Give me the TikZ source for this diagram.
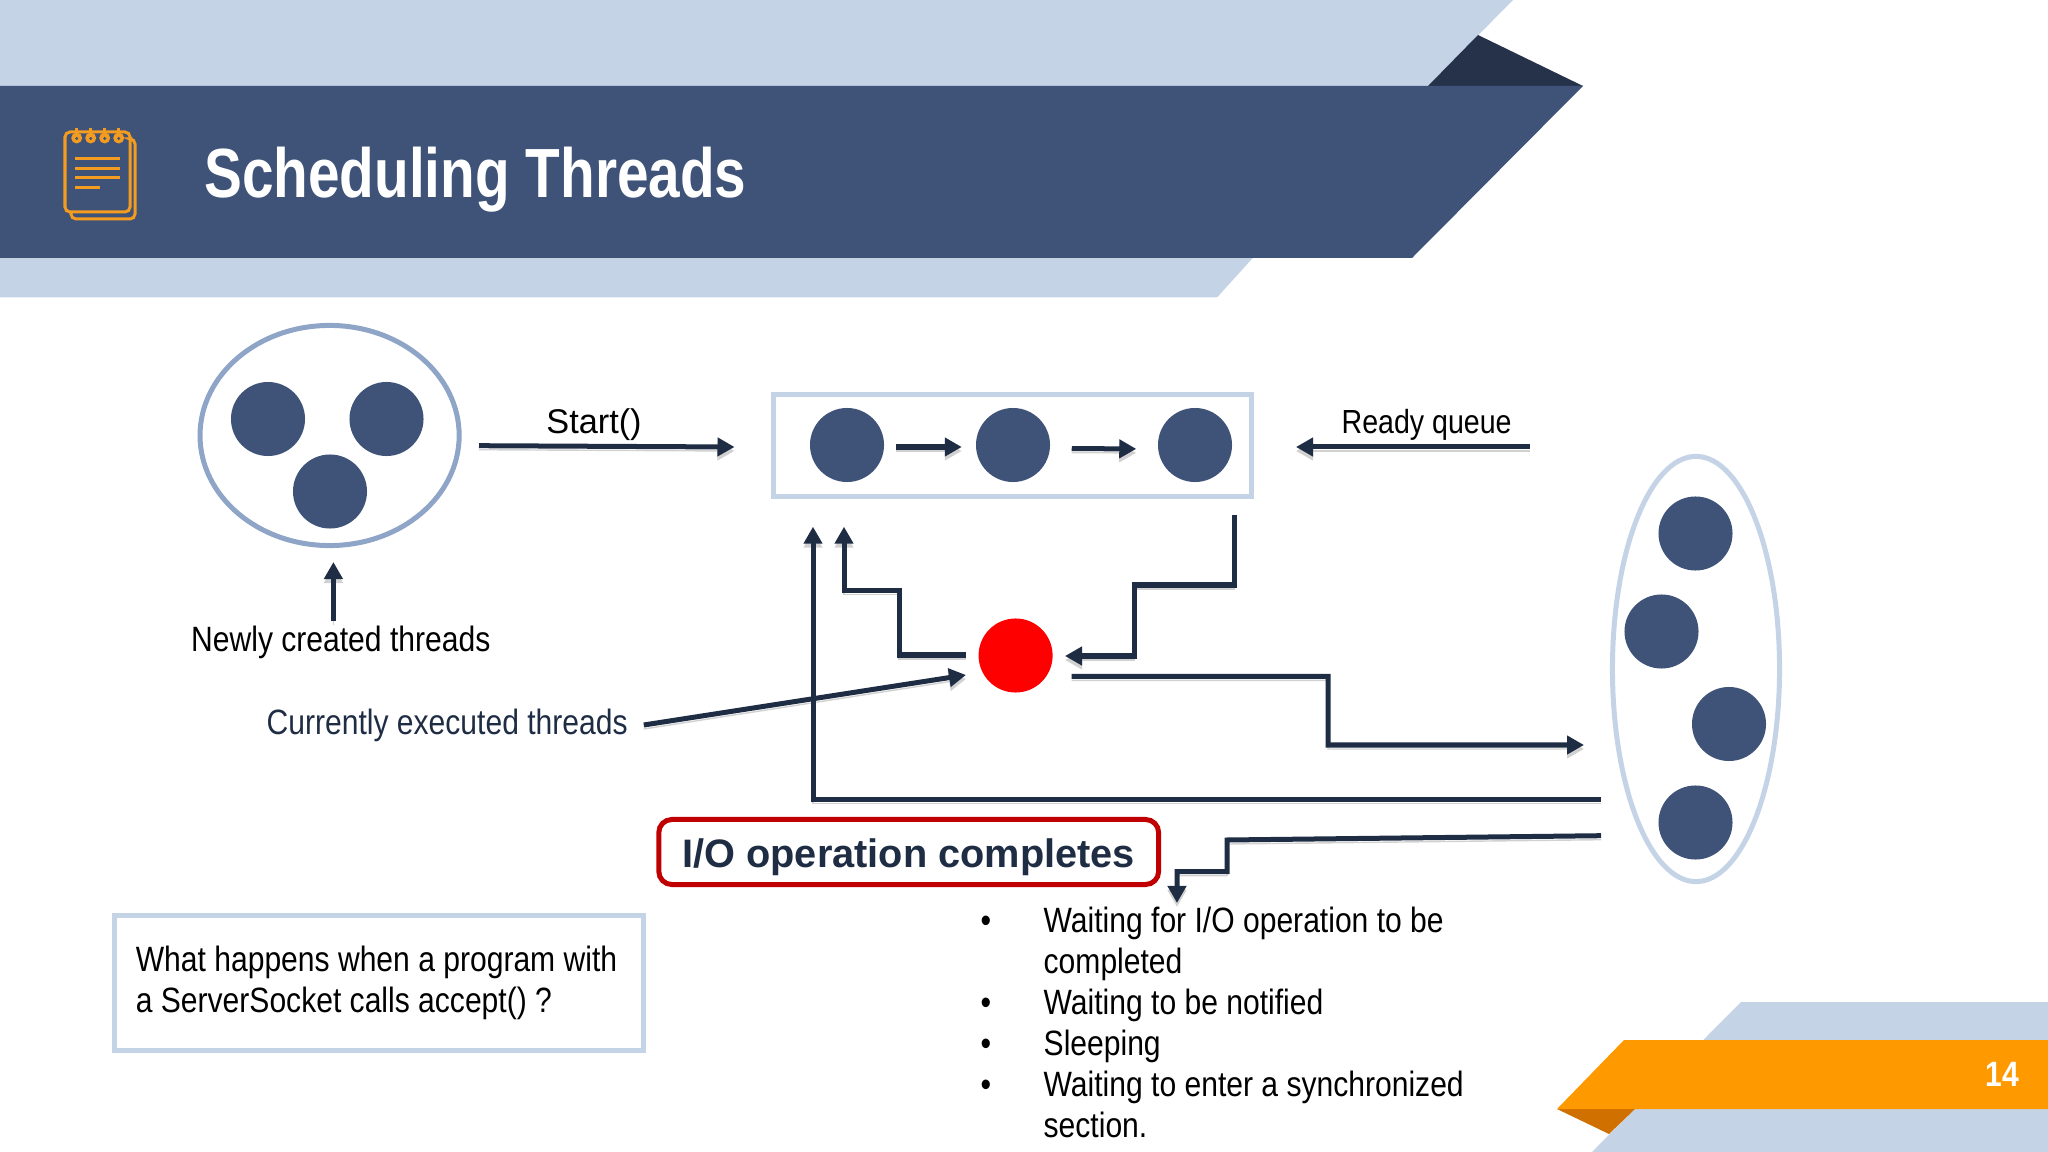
\documentclass[tikz,border=0pt]{standalone}
\usepackage{fontspec}
\setmainfont{Liberation Sans}
\newfontfamily\narrowfont[FakeStretch=0.855]{Liberation Sans}
\newfontfamily\titlefont[FakeStretch=0.815]{Liberation Sans}
\usetikzlibrary{arrows.meta,shapes.geometric,calc}
\definecolor{bandlight}{HTML}{C5D3E7}
\definecolor{banddark}{HTML}{3F5378}
\definecolor{bandfold}{HTML}{25324A}
\definecolor{accent}{HTML}{FF9900}
\definecolor{accentfold}{HTML}{D07000}
\definecolor{iconline}{HTML}{F39C1F}
\definecolor{linedark}{HTML}{1F2D44}
\definecolor{poolline}{HTML}{8FA5C8}
\definecolor{ioline}{HTML}{C00000}
\newcommand{\bodyfont}{\fontsize{10}{11.66}\selectfont\narrowfont}
\tikzset{
    thread/.style={circle, fill=banddark, minimum size=0.74cm, inner sep=0pt},
    flowline/.style={line width=0.05cm, draw=linedark,
        preaction={draw=black!18, transform canvas={yshift=-0.04cm}}},
    flowarrow/.style={flowline, -{Triangle[length=0.17cm,width=0.18cm]}},
    label/.style={anchor=base west, inner sep=0pt, font=\bodyfont},
    lightbox/.style={draw=bandlight, line width=0.05cm, fill=white, inner sep=0pt}
}
\begin{document}
\begin{tikzpicture}[x=0.01cm, y=-0.01cm]
    \useasboundingbox (0,0) rectangle (2048,1152);
    % header bands
    \fill[bandlight] (0,0) -- (1513,0) -- (1428,86) -- (0,86) -- cycle;
    \fill[bandlight] (0,250) -- (1260,250) -- (1217,297.5) -- (0,297.5) -- cycle;
    \fill[bandfold] (1428,86) -- (1478,35) -- (1583,86) -- cycle;
    \fill[banddark] (0,86) -- (1583,86) -- (1412,258) -- (0,258) -- cycle;
    \node[label, text=white, font=\fontsize{19.8}{24}\selectfont\titlefont\bfseries] (title) at (203.5,197.7) {Scheduling Threads};
    % notepad icon
    \draw[iconline, line width=0.03cm, rounded corners=0.05cm] (65,132) rectangle (130,212);
    \draw[iconline, line width=0.03cm, rounded corners=0.05cm] (132.5,139) -- (135,139) -- (135,219) -- (71,219) -- (71,213);
    \foreach \x in {76.7,90.7,104.7,118.7} {
        \draw[iconline, line width=0.025cm] (\x,128) -- (\x,136);
        \fill[iconline] (\x,138) circle (5.5);
        \fill[banddark] (\x,138.5) circle (1.6);
    }
    \foreach \y/\xend in {159/120,168.3/120,177.7/120,187.3/100} {
        \draw[iconline, line width=0.03cm] (75,\y) -- (\xend,\y);
    }
    % footer bands
    \fill[bandlight] (1741,1002) -- (2048,1002) -- (2048,1152) -- (1592,1152) -- cycle;
    \fill[accentfold] (1557,1109) -- (1635,1109) -- (1609,1134) -- cycle;
    \fill[accent] (1624,1040) -- (2048,1040) -- (2048,1109) -- (1557,1109) -- cycle;
    \node[label, text=white, font=\bodyfont\bfseries] (page) at (1985,1086) {14};

    % new threads
    \node[draw=poolline, line width=0.05cm, ellipse, minimum width=2.59cm, minimum height=2.2cm, inner sep=0pt] (newPool) at (329.6,435.5) {};
    \node[thread] (new1) at (268,419) {};
    \node[thread] (new2) at (386.5,419) {};
    \node[thread] (new3) at (330,491.5) {};
    \node[anchor=base, inner sep=0pt, font=\fontsize{9.75}{11.66}\selectfont] (startText) at (594,433.7) {Start()};
    \node[label] (newText) at (190.5,651) {Newly created threads};
    \coordinate (startFrom) at (479,445.7);
    \coordinate (startTo) at (734.5,447);
    \coordinate (newFrom) at (333.4,621);
    \coordinate (newTo) at (333.4,562);
    \draw[flowarrow] (startFrom) -- (startTo);
    \draw[flowarrow] (newFrom) -- (newTo);

    % ready queue
    \node[lightbox, minimum width=4.775cm, minimum height=1.02cm] (readyBox) at (1012.7,445.5) {};
    \node[thread] (ready1) at (847,445) {};
    \node[thread] (ready2) at (1013,445) {};
    \node[thread] (ready3) at (1195,445) {};
    \draw[flowarrow, shorten <=0.11cm, shorten >=0.135cm] ([yshift=-0.02cm]ready1.east) -- ([yshift=-0.02cm]ready2.west);
    \draw[flowarrow, shorten <=0.21cm, shorten >=0.21cm] ([yshift=-0.035cm]ready2.east) -- ([yshift=-0.04cm]ready3.west);
    \node[label, font=\fontsize{9.5}{11.66}\selectfont\narrowfont] (readyText) at (1341,434) {Ready queue};
    \coordinate (readyFrom) at (1529.6,447);
    \coordinate (readyTo) at (1296,447);
    \draw[flowarrow] (readyFrom) -- (readyTo);

    % running thread
    \node[circle, fill=red, minimum size=0.74cm, inner sep=0pt] (cpu) at (1015.6,655.5) {};
    \node[label, text=linedark] (cpuText) at (266,735) {Currently executed threads};
    \coordinate (cpuFrom) at (643.8,725);
    \coordinate (cpuTo) at (966,675);
    \draw[flowarrow] (cpuFrom) -- (cpuTo);
    \coordinate (dispatchFrom) at (1234.4,515);
    \coordinate (dispatchTo) at (1065,656);
    \draw[flowarrow] (dispatchFrom) -- ++(0,70) -- ++(-100.4,0) -- ++(0,71) -- (dispatchTo);
    \coordinate (yieldFrom) at (966,655);
    \coordinate (yieldTo) at (844,526.7);
    \draw[flowarrow] (yieldFrom) -- ++(-67,0) -- ++(0,-64.3) -- ++(-55,0) -- (yieldTo);
    \coordinate (blockFrom) at (1071.5,676.3);
    \coordinate (blockTo) at (1584,745);
    \draw[flowarrow] (blockFrom) -- ++(256.5,0) -- ++(0,68.7) -- (blockTo);

    % waiting threads
    \node[draw=bandlight, line width=0.05cm, ellipse, minimum width=1.67cm, minimum height=4.25cm, inner sep=0pt] (waitPool) at (1696,669) {};
    \node[thread] (wait1) at (1695.5,533.5) {};
    \node[thread] (wait2) at (1661.5,631.5) {};
    \node[thread] (wait3) at (1729,724) {};
    \node[thread] (wait4) at (1695.5,822.5) {};
    \coordinate (wakeFrom) at (1601,799.3);
    \coordinate (wakeTo) at (813,526.7);
    \draw[flowarrow] (wakeFrom) -- ++(-788,0) -- (wakeTo);
    \coordinate (listFrom) at (1601,835.7);
    \coordinate (listTo) at (1177,903);
    \draw[flowarrow] (listFrom) -- (1227,840) -- ++(0,31.7) -- ++(-50,0) -- (listTo);
    \node[draw=ioline, line width=0.05cm, fill=white, rounded corners=0.13cm, minimum width=4.995cm, minimum height=0.65cm, inner sep=0pt, text=linedark, font=\fontsize{11.3}{13}\selectfont\bfseries] (ioBox) at (908.7,852) {\raisebox{-4.45pt}[0pt][0pt]{I/O operation completes}};

    % question and list
    \node[lightbox, minimum width=5.28cm, minimum height=1.34cm, text width=4.86cm, align=flush left, font=\bodyfont] (noteBox) at (379,983) {What happens when a program with\\a ServerSocket calls accept() ?};
    \foreach \y/\n in {932/1,1014/2,1055/3,1096/4} {
        \node[label] (dot\n) at (980,\y) {•};
    }
    \node[anchor=north west, inner sep=0pt, align=left, font=\bodyfont] (waitList) at (1043,906.7) {Waiting for I/O operation to be\\completed\\Waiting to be notified\\Sleeping\\Waiting to enter a synchronized\\section.};
\end{tikzpicture}
\end{document}
